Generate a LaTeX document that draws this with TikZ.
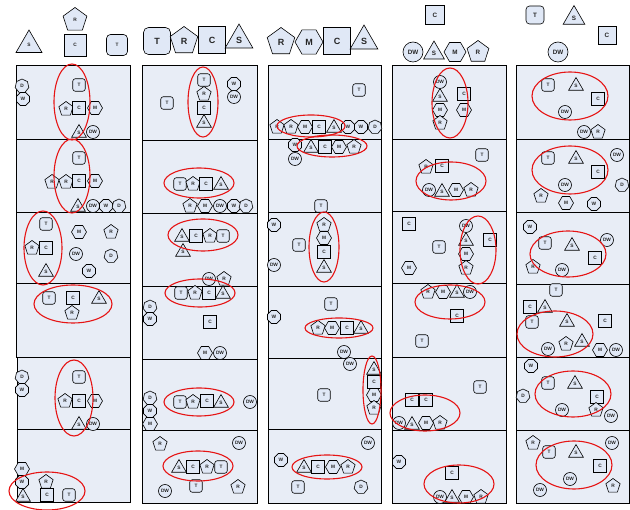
\documentclass[tikz,border=0pt]{standalone}
\usepackage{fontspec}
\setmainfont{Liberation Sans}
\usetikzlibrary{shapes.geometric}
\definecolor{cellfill}{RGB}{232,237,246}
\definecolor{shpfill}{RGB}{224,232,246}
\definecolor{ellred}{RGB}{230,20,20}
\newcommand\mkn[4]{\node[#1] (#2) at (#3) {#4};}
\begin{document}
\begin{tikzpicture}[x=1pt,y=-1pt,
  base/.style={draw=black, line width=0.6pt, fill=shpfill, inner sep=0pt, font=\fontsize{4.8}{4.8}\selectfont\bfseries, text=black!85},
  sT/.style={base, rectangle, rounded corners=2.5pt, minimum size=12.5pt},
  sC/.style={base, rectangle, minimum size=13.5pt},
  sR/.style={base, regular polygon, regular polygon sides=5, minimum size=15pt},
  sS/.style={base, regular polygon, regular polygon sides=3, minimum size=17pt},
  sM/.style={base, regular polygon, regular polygon sides=6, minimum size=15pt},
  sD/.style={base, regular polygon, regular polygon sides=7, minimum size=14pt},
  sW/.style={base, regular polygon, regular polygon sides=8, minimum size=14pt},
  sDW/.style={base, circle, minimum size=13pt},
  hbase/.style={base, line width=0.8pt, font=\fontsize{7}{7}\selectfont\bfseries},
  hbig/.style={font=\fontsize{9}{9}\selectfont\bfseries},
  hmid/.style={font=\fontsize{6.3}{6.3}\selectfont\bfseries},
  cell/.style={draw=black, line width=0.8pt, fill=cellfill},
  redell/.style={draw=ellred, line width=1.1pt}]
\useasboundingbox (0,0) rectangle (630,510);
\fill[white] (0,0) rectangle (630,510);
% ---------- cells ----------
\foreach \y/\z in {65/139,139/212,212/283,283/357} {\draw[cell] (16,\y) rectangle (130,\z);}
\foreach \y/\z in {357/429,429/502} {\draw[cell] (17,\y) rectangle (130,\z);}
\foreach \y/\z in {65/140,140/213,213/286,286/359,359/430,430/503} {\draw[cell] (142,\y) rectangle (257,\z);}
\foreach \y/\z in {65/139,139/212,212/286,286/358,358/429,429/503} {\draw[cell] (268,\y) rectangle (381,\z);}
\foreach \y/\z in {65/139,139/211,211/283,283/357,357/430,430/503} {\draw[cell] (392,\y) rectangle (506,\z);}
\foreach \y/\z in {65/139,139/212,212/284,284/357,357/430,430/503} {\draw[cell] (516,\y) rectangle (629.5,\z);}
% ---------- headers ----------
\mkn{hbase,sS,minimum size=30pt}{h1s}{29,45}{S}
\mkn{hbase,sR,minimum size=25pt}{h1r}{75,20}{R}
\mkn{hbase,sC,minimum size=22pt}{h1c}{75,45}{C}
\mkn{hbase,sT,minimum size=21pt,rounded corners=4pt}{h1t}{117,45}{T}
\mkn{hbase,sT,minimum size=27pt,rounded corners=5pt,hbig}{h2t}{157,41}{T}
\mkn{hbase,sR,minimum size=29pt,hbig}{h2r}{184,41}{R}
\mkn{hbase,sC,minimum size=27pt,hbig}{h2c}{212,40}{C}
\mkn{hbase,sS,minimum size=32pt,hbig}{h2s}{239,40}{S}
\mkn{hbase,sR,minimum size=29pt,hbig}{h3r}{281,42}{R}
\mkn{hbase,sM,minimum size=28pt,hbig}{h3m}{309,42}{M}
\mkn{hbase,sC,minimum size=27pt,hbig}{h3c}{337,41}{C}
\mkn{hbase,sS,minimum size=32pt,hbig}{h3s}{364,41}{S}
\mkn{hbase,sC,minimum size=19pt,hmid}{h4c}{435,15}{C}
\mkn{hbase,sDW,minimum size=20pt,hmid}{h4dw}{413,52}{DW}
\mkn{hbase,sS,minimum size=24pt,hmid}{h4s}{434,53}{S}
\mkn{hbase,sM,minimum size=22pt,hmid}{h4m}{455,52}{M}
\mkn{hbase,sR,minimum size=23pt,hmid}{h4r}{478,52}{R}
\mkn{hbase,sT,minimum size=18pt,rounded corners=3.5pt,hmid}{h5t}{535,15}{T}
\mkn{hbase,sS,minimum size=25pt,hmid}{h5s}{574,18}{S}
\mkn{hbase,sC,minimum size=18pt,hmid}{h5c}{607,35}{C}
\mkn{hbase,sDW,minimum size=20pt,hmid}{h5dw}{558,52}{DW}
% ---------- column 1 ----------
\mkn{sD}{a1d}{22,86}{D}
\mkn{sW}{a1w}{23,99}{W}
\mkn{sT}{a1t}{79,85}{T}
\mkn{sR}{a1r}{66,109}{R}
\mkn{sC}{a1c}{79,108}{C}
\mkn{sM}{a1m}{95,108}{M}
\mkn{sS}{a1s}{79,133}{S}
\mkn{sDW}{a1dw}{93,132}{DW}
\draw[redell] (72,102) ellipse [x radius=18pt, y radius=38pt];
\mkn{sT}{a2t}{79,158}{T}
\mkn{sR}{a2r1}{52,182}{R}
\mkn{sR}{a2r2}{66,182}{R}
\mkn{sC}{a2c}{79,181}{C}
\mkn{sM}{a2m}{95,181}{M}
\mkn{sS}{a2s}{78,207}{S}
\mkn{sDW}{a2dw}{93,206}{DW}
\mkn{sW}{a2w}{106,206}{W}
\mkn{sD}{a2d}{119,206}{D}
\draw[redell] (72,176) ellipse [x radius=18pt, y radius=37pt];
\mkn{sT}{a3t}{46,224}{T}
\mkn{sR}{a3r}{32,248}{R}
\mkn{sC}{a3c}{46,248}{C}
\mkn{sS}{a3s}{46,272}{S}
\mkn{sM}{a3m}{79,232}{M}
\mkn{sR}{a3r2}{111,232}{R}
\mkn{sDW}{a3dw}{76,254}{DW}
\mkn{sD}{a3d}{111,256}{D}
\mkn{sW}{a3w}{89,271}{W}
\draw[redell] (43,248) ellipse [x radius=19pt, y radius=37pt];
\mkn{sT}{a4t}{49,298}{T}
\mkn{sC}{a4c}{73,298}{C}
\mkn{sS}{a4s}{99,299}{S}
\mkn{sR}{a4r}{72,313}{R}
\draw[redell] (73,304) ellipse [x radius=39pt, y radius=19pt];
\mkn{sD}{a5d}{22,377}{D}
\mkn{sW}{a5w}{22,390}{W}
\mkn{sT}{a5t}{79,377}{T}
\mkn{sR}{a5r}{65,401}{R}
\mkn{sC}{a5c}{79,401}{C}
\mkn{sM}{a5m}{95,401}{M}
\mkn{sS}{a5s}{79,425}{S}
\mkn{sDW}{a5dw}{93,424}{DW}
\draw[redell] (74,398) ellipse [x radius=19pt, y radius=38pt];
\mkn{sM}{a6m}{22,469}{M}
\mkn{sW}{a6w}{22,482}{W}
\mkn{sS}{a6s}{23,497}{S}
\mkn{sR}{a6r}{46,482}{R}
\mkn{sC}{a6c}{47,495}{C}
\mkn{sT}{a6t}{69,495}{T}
\draw[redell] (47,491) ellipse [x radius=38pt, y radius=19pt];
% ---------- column 2 ----------
\mkn{sT}{b1t}{204,80}{T}
\mkn{sR}{b1r}{204,94}{R}
\mkn{sC}{b1c}{204,108}{C}
\mkn{sS}{b1s}{204,123}{S}
\mkn{sT}{b1t2}{167,103}{T}
\mkn{sW}{b1w}{234,84}{W}
\mkn{sDW}{b1dw}{234,97}{DW}
\draw[redell] (203,102) ellipse [x radius=15pt, y radius=35pt];
\mkn{sT}{b2t}{180,184}{T}
\mkn{sR}{b2r}{193,184}{R}
\mkn{sC}{b2c}{206,184}{C}
\mkn{sS}{b2s}{221,185}{S}
\mkn{sR}{b2r2}{190,206}{R}
\mkn{sM}{b2m}{205,206}{M}
\mkn{sDW}{b2dw}{220,206}{DW}
\mkn{sW}{b2w}{234,206}{W}
\mkn{sD}{b2d}{246,206}{D}
\draw[redell] (199,183) ellipse [x radius=35pt, y radius=15pt];
\mkn{sS}{b3s}{182,237}{S}
\mkn{sC}{b3c}{196,236}{C}
\mkn{sR}{b3r}{210,236}{R}
\mkn{sT}{b3t}{223,236}{T}
\mkn{sS}{b3s2}{183,252}{S}
\mkn{sDW}{b3dw}{209,279}{DW}
\mkn{sR}{b3r2}{224,279}{R}
\draw[redell] (203,235) ellipse [x radius=35pt, y radius=16pt];
\mkn{sT}{b4t}{181,293}{T}
\mkn{sR}{b4r}{195,293}{R}
\mkn{sC}{b4c}{209,293}{C}
\mkn{sS}{b4s}{223,294}{S}
\mkn{sD}{b4d}{150,307}{D}
\mkn{sW}{b4w}{150,319}{W}
\mkn{sC}{b4c2}{210,322}{C}
\mkn{sM}{b4m}{205,353}{M}
\mkn{sDW}{b4dw}{220,353}{DW}
\draw[redell] (200,293) ellipse [x radius=35pt, y radius=14pt];
\mkn{sT}{b5t}{180,402}{T}
\mkn{sR}{b5r}{193,402}{R}
\mkn{sC}{b5c}{207,401}{C}
\mkn{sS}{b5s}{221,403}{S}
\mkn{sD}{b5d}{150,398}{D}
\mkn{sW}{b5w}{150,411}{W}
\mkn{sM}{b5m}{150,424}{M}
\mkn{sDW}{b5dw}{250,402}{DW}
\draw[redell] (199,402) ellipse [x radius=35pt, y radius=14pt];
\mkn{sR}{b6r}{160,444}{R}
\mkn{sDW}{b6dw}{239,443}{DW}
\mkn{sS}{b6s}{179,468}{S}
\mkn{sC}{b6c}{193,467}{C}
\mkn{sR}{b6r2}{207,467}{R}
\mkn{sT}{b6t}{221,467}{T}
\mkn{sDW}{b6dw2}{165,491}{DW}
\mkn{sT}{b6t2}{196,486}{T}
\mkn{sR}{b6r3}{238,487}{R}
\draw[redell] (198,466) ellipse [x radius=35pt, y radius=15pt];
% ---------- column 3 ----------
\mkn{sT}{c1t}{359,90}{T}
\mkn{sR}{c1r}{277,127}{R}
\mkn{sR}{c1r2}{291,127}{R}
\mkn{sM}{c1m}{305,127}{M}
\mkn{sC}{c1c}{319,127}{C}
\mkn{sS}{c1s}{334,128}{S}
\mkn{sW}{c1w}{348,127}{W}
\mkn{sW}{c1w2}{361,127}{W}
\mkn{sD}{c1d}{375,127}{D}
\draw[redell] (311,126) ellipse [x radius=34pt, y radius=11pt];
\mkn{sW}{c2w}{295,145}{W}
\mkn{sS}{c2s}{311,148}{S}
\mkn{sC}{c2c}{325,147}{C}
\mkn{sM}{c2m}{339,147}{M}
\mkn{sR}{c2r}{354,147}{R}
\mkn{sDW}{c2dw}{295,159}{DW}
\mkn{sT}{c2t}{321,206}{T}
\draw[redell] (332,146) ellipse [x radius=35pt, y radius=11pt];
\mkn{sW}{c3w}{274,225}{W}
\mkn{sR}{c3r}{324,225}{R}
\mkn{sM}{c3m}{324,238}{M}
\mkn{sC}{c3c}{324,252}{C}
\mkn{sS}{c3s}{324,268}{S}
\mkn{sT}{c3t}{299,245}{T}
\mkn{sDW}{c3dw}{274,265}{DW}
\draw[redell] (324,247) ellipse [x radius=15pt, y radius=35pt];
\mkn{sT}{c4t}{331,304}{T}
\mkn{sW}{c4w}{274,317}{W}
\mkn{sR}{c4r}{318,328}{R}
\mkn{sM}{c4m}{332,328}{M}
\mkn{sC}{c4c}{347,328}{C}
\mkn{sS}{c4s}{361,329}{S}
\mkn{sDW}{c4dw}{344,352}{DW}
\draw[redell] (339,328) ellipse [x radius=34pt, y radius=10pt];
\mkn{sDW}{c5dw}{350,364}{DW}
\mkn{sS}{c5s}{374,370}{S}
\mkn{sC}{c5c}{374,382}{C}
\mkn{sM}{c5m}{374,395}{M}
\mkn{sR}{c5r}{374,408}{R}
\mkn{sT}{c5t}{324,395}{T}
\draw[redell] (372,390) ellipse [x radius=9pt, y radius=34pt];
\mkn{sDW}{c6dw}{368,443}{DW}
\mkn{sW}{c6w}{281,460}{W}
\mkn{sS}{c6s}{304,468}{S}
\mkn{sC}{c6c}{318,467}{C}
\mkn{sM}{c6m}{333,467}{M}
\mkn{sR}{c6r}{348,467}{R}
\mkn{sT}{c6t}{298,487}{T}
\mkn{sD}{c6d}{361,487}{D}
\draw[redell] (327,467) ellipse [x radius=35pt, y radius=12pt];
% ---------- column 4 ----------
\mkn{sDW}{d1dw}{440,82}{DW}
\mkn{sS}{d1s}{440,97}{S}
\mkn{sM}{d1m}{440,110}{M}
\mkn{sR}{d1r}{440,123}{R}
\mkn{sC}{d1c}{464,94}{C}
\mkn{sM}{d1m2}{464,110}{M}
\draw[redell] (450,103) ellipse [x radius=18pt, y radius=35pt];
\mkn{sT}{d2t}{482,155}{T}
\mkn{sR}{d2r}{426,167}{R}
\mkn{sC}{d2c}{442,166}{C}
\mkn{sDW}{d2dw}{429,190}{DW}
\mkn{sS}{d2s}{442,192}{S}
\mkn{sM}{d2m}{456,190}{M}
\mkn{sR}{d2r2}{471,190}{R}
\draw[redell] (451,181) ellipse [x radius=35pt, y radius=19pt];
\mkn{sC}{d3c}{409,224}{C}
\mkn{sDW}{d3dw}{466,226}{DW}
\mkn{sS}{d3s}{466,241}{S}
\mkn{sM}{d3m}{466,254}{M}
\mkn{sR}{d3r}{466,268}{R}
\mkn{sC}{d3c2}{490,240}{C}
\mkn{sT}{d3t}{439,247}{T}
\mkn{sM}{d3m2}{409,268}{M}
\draw[redell] (478,250) ellipse [x radius=18pt, y radius=34pt];
\mkn{sR}{d4r}{428,292}{R}
\mkn{sM}{d4m}{443,292}{M}
\mkn{sS}{d4s}{457,293}{S}
\mkn{sDW}{d4dw}{470,292}{DW}
\mkn{sC}{d4c}{457,316}{C}
\mkn{sT}{d4t}{422,341}{T}
\draw[redell] (450,302) ellipse [x radius=35pt, y radius=17pt];
\mkn{sT}{d5t}{480,387}{T}
\mkn{sC}{d5c}{412,400}{C}
\mkn{sC}{d5c2}{426,400}{C}
\mkn{sDW}{d5dw}{399,423}{DW}
\mkn{sS}{d5s}{412,425}{S}
\mkn{sM}{d5m}{426,423}{M}
\mkn{sR}{d5r}{440,423}{R}
\draw[redell] (425,413) ellipse [x radius=35pt, y radius=18pt];
\mkn{sW}{d6w}{399,462}{W}
\mkn{sC}{d6c}{452,473}{C}
\mkn{sDW}{d6dw}{440,497}{DW}
\mkn{sS}{d6s}{452,498}{S}
\mkn{sM}{d6m}{466,497}{M}
\mkn{sR}{d6r}{481,497}{R}
\draw[redell] (459,484) ellipse [x radius=35pt, y radius=19pt];
% ---------- column 5 ----------
\mkn{sT}{e1t}{548,85}{T}
\mkn{sS}{e1s}{576,86}{S}
\mkn{sC}{e1c}{598,99}{C}
\mkn{sDW}{e1dw}{565,112}{DW}
\mkn{sDW}{e1dw2}{584,132}{DW}
\mkn{sR}{e1r}{598,132}{R}
\draw[redell] (570,96) ellipse [x radius=38pt, y radius=24pt];
\mkn{sT}{e2t}{548,158}{T}
\mkn{sS}{e2s}{576,159}{S}
\mkn{sC}{e2c}{598,172}{C}
\mkn{sDW}{e2dw}{565,185}{DW}
\mkn{sDW}{e2dw2}{617,155}{DW}
\mkn{sD}{e2d}{622,185}{D}
\mkn{sR}{e2r}{541,196}{R}
\mkn{sM}{e2m}{566,203}{M}
\mkn{sW}{e2w}{594,204}{W}
\draw[redell] (570,170) ellipse [x radius=38pt, y radius=24pt];
\mkn{sW}{e3w}{530,227}{W}
\mkn{sT}{e3t}{545,243}{T}
\mkn{sS}{e3s}{572,246}{S}
\mkn{sDW}{e3dw}{607,240}{DW}
\mkn{sC}{e3c}{595,258}{C}
\mkn{sDW}{e3dw2}{562,270}{DW}
\mkn{sR}{e3r}{533,267}{R}
\draw[redell] (568,254) ellipse [x radius=38pt, y radius=23pt];
\mkn{sT}{e4t}{556,290}{T}
\mkn{sC}{e4c}{530,307}{C}
\mkn{sS}{e4s}{545,308}{S}
\mkn{sT}{e4t2}{532,322}{T}
\mkn{sS}{e4s2}{567,322}{S}
\mkn{sC}{e4c2}{605,321}{C}
\mkn{sDW}{e4dw}{548,349}{DW}
\mkn{sR}{e4r}{566,344}{R}
\mkn{sS}{e4s3}{582,342}{S}
\mkn{sM}{e4m}{600,350}{M}
\mkn{sDW}{e4dw2}{616,350}{DW}
\draw[redell] (555,334) ellipse [x radius=38pt, y radius=23pt];
\mkn{sW}{e5w}{531,366}{W}
\mkn{sT}{e5t}{548,383}{T}
\mkn{sS}{e5s}{575,384}{S}
\mkn{sC}{e5c}{597,397}{C}
\mkn{sD}{e5d}{523,396}{D}
\mkn{sDW}{e5dw}{562,410}{DW}
\mkn{sR}{e5r}{596,410}{R}
\mkn{sDW}{e5dw2}{611,416}{DW}
\draw[redell] (573,394) ellipse [x radius=38pt, y radius=23pt];
\mkn{sR}{e6r}{533,443}{R}
\mkn{sT}{e6t}{549,452}{T}
\mkn{sS}{e6s}{576,453}{S}
\mkn{sDW}{e6dw}{612,443}{DW}
\mkn{sC}{e6c}{600,466}{C}
\mkn{sDW}{e6dw2}{570,479}{DW}
\mkn{sDW}{e6dw3}{540,490}{DW}
\mkn{sR}{e6r2}{613,486}{R}
\draw[redell] (574,465) ellipse [x radius=38pt, y radius=24pt];
\end{tikzpicture}
\end{document}
